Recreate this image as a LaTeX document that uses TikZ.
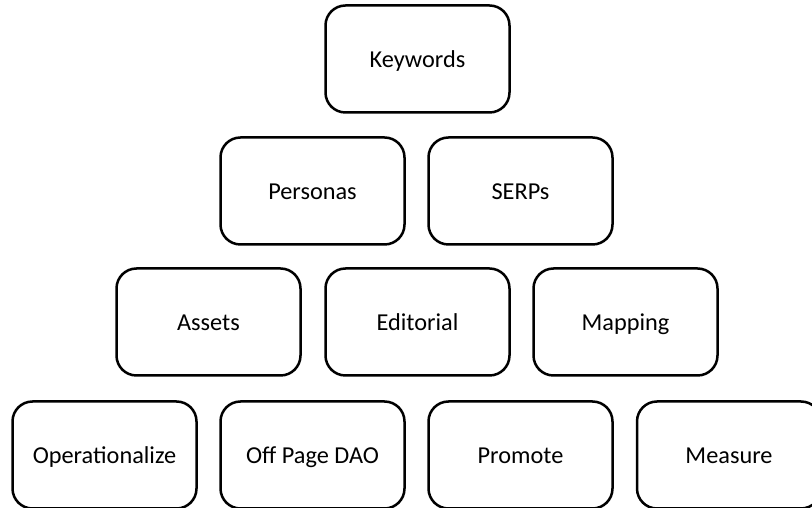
\documentclass[tikz,border=0pt]{standalone}
\usepackage{fontspec}
\setmainfont{Carlito}
\begin{document}
\begin{tikzpicture}[x=1pt,y=1pt,
  card/.style={draw=black, line width=2.5pt, rounded corners=20pt,
    minimum width=184pt, minimum height=107pt, inner sep=0pt,
    text height=20pt, text depth=2pt,
    font=\fontsize{24.3}{28}\selectfont, text=black}]
\useasboundingbox (0,0) rectangle (812,508);
\clip (0,0) rectangle (812,508);
% top level
\node[card] (keywords) at (417.5,449) {Keywords};
% second level
\node[card] (personas) at (312.5,317) {Personas};
\node[card] (serps)    at (520.5,317) {SERPs};
% third level
\node[card] (assets)    at (208.5,186) {Assets};
\node[card] (editorial) at (417.5,186) {Editorial};
\node[card] (mapping)   at (625.5,186) {Mapping};
% bottom level
\node[card] (operationalize) at (104.5,53) {Operationalize};
\node[card] (offpage)        at (312.5,53) {Off Page DAO};
\node[card] (promote)        at (520.5,53) {Promote};
\node[card] (measure)        at (729,53)   {Measure};
\end{tikzpicture}
\end{document}
